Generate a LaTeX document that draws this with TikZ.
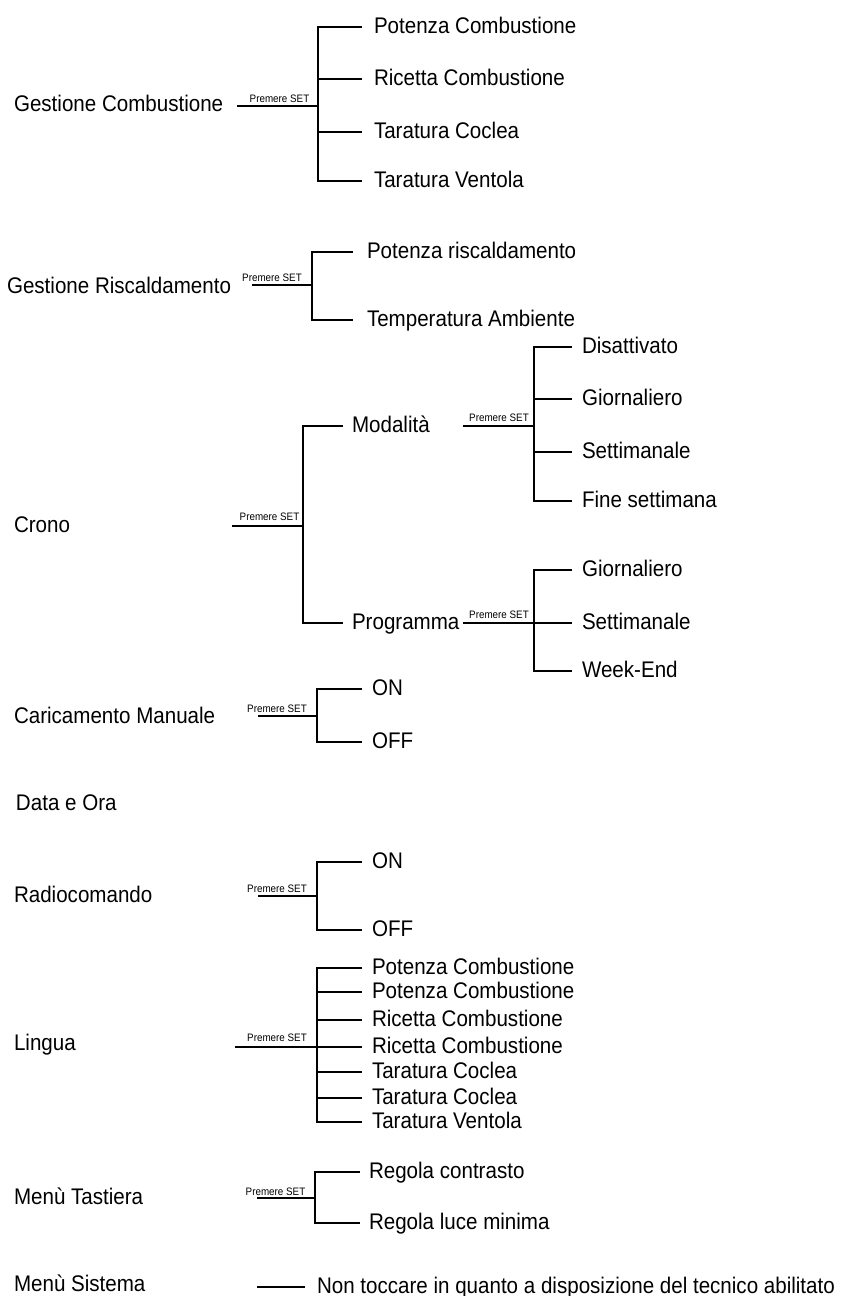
\documentclass[tikz,border=0pt]{standalone}
\usepackage{fontspec}
\setmainfont{Liberation Sans}[FakeStretch=0.91]
\usetikzlibrary{calc}
\begin{document}
\begin{tikzpicture}[x=1pt,y=-1pt,line width=1.5pt,
  lbl/.style={anchor=west, inner sep=0pt, outer sep=0pt, text height=15.8pt, text depth=3.6pt, font=\fontsize{22.6}{26}\selectfont},
  kid/.style={lbl, outer xsep=#1}, kid/.default=12pt,
  setlbl/.style={anchor=base, inner sep=0pt, font=\fontsize{10.8}{12}\selectfont}]
\useasboundingbox (0,0) rectangle (845,1296);
\fill[white] (0,0) rectangle (845,1296);

% ---- Gestione Combustione
\node[lbl] (gc) at (14,105) {Gestione Combustione};
\coordinate (gc-s) at (237,106);
\coordinate (gc-j) at (318,106);
\node[setlbl] (gc-set) at (279.5,102) {Premere SET};
\node[kid=12pt] (gc1) at (362,27) {Potenza Combustione};
\node[kid=12pt] (gc2) at (362,79) {Ricetta Combustione};
\node[kid=12pt] (gc3) at (362,132) {Taratura Coclea};
\node[kid=12pt] (gc4) at (362,181) {Taratura Ventola};
\draw (gc-s) -- (gc-j);
\draw (gc1.west) -- (gc-j |- gc1.west) -- (gc-j |- gc4.west) -- (gc4.west);
\draw (gc-j |- gc2.west) -- (gc2.west);
\draw (gc-j |- gc3.west) -- (gc3.west);

% ---- Gestione Riscaldamento
\node[lbl] (gr) at (7,287) {Gestione Riscaldamento};
\coordinate (gr-s) at (252,285);
\coordinate (gr-j) at (312,285);
\node[setlbl] (gr-set) at (272,281.5) {Premere SET};
\node[kid=14pt] (gr1) at (353,252) {Potenza riscaldamento};
\node[kid=14pt] (gr2) at (353,320) {Temperatura Ambiente};
\draw (gr-s) -- (gr-j);
\draw (gr1.west) -- (gr-j |- gr1.west) -- (gr-j |- gr2.west) -- (gr2.west);

% ---- Crono
\node[lbl] (cr) at (14,526) {Crono};
\coordinate (cr-s) at (232,526);
\coordinate (cr-j) at (303,526);
\node[setlbl] (cr-set) at (269.5,520.5) {Premere SET};
\node[kid=9pt] (mo) at (343,426) {Modalità};
\node[kid=9pt] (pr) at (343,623) {Programma};
\draw (cr-s) -- (cr-j);
\draw (mo.west) -- (cr-j |- mo.west) -- (cr-j |- pr.west) -- (pr.west);

\coordinate (mo-s) at (463,426);
\coordinate (mo-j) at (534,426);
\node[setlbl] (mo-set) at (499,421) {Premere SET};
\node[kid=10pt] (mo1) at (572,347) {Disattivato};
\node[kid=10pt] (mo2) at (572,399) {Giornaliero};
\node[kid=10pt] (mo3) at (572,452) {Settimanale};
\node[kid=10pt] (mo4) at (572,501) {Fine settimana};
\draw (mo-s) -- (mo-j);
\draw (mo1.west) -- (mo-j |- mo1.west) -- (mo-j |- mo4.west) -- (mo4.west);
\draw (mo-j |- mo2.west) -- (mo2.west);
\draw (mo-j |- mo3.west) -- (mo3.west);

\coordinate (pr-s) at (463,623);
\coordinate (pr-j) at (534,623);
\node[setlbl] (pr-set) at (499,618) {Premere SET};
\node[kid=10pt] (pr1) at (572,570) {Giornaliero};
\node[kid=10pt] (pr2) at (572,623) {Settimanale};
\node[kid=10pt] (pr3) at (572,671) {Week-End};
\draw (pr-s) -- (pr-j);
\draw (pr1.west) -- (pr-j |- pr1.west) -- (pr-j |- pr3.west) -- (pr3.west);
\draw (pr-j |- pr2.west) -- (pr2.west);

% ---- Caricamento Manuale
\node[lbl] (cm) at (14,717) {Caricamento Manuale};
\coordinate (cm-s) at (258,716);
\coordinate (cm-j) at (317,716);
\node[setlbl] (cm-set) at (277,712) {Premere SET};
\node[kid=10pt] (cm1) at (362,689) {ON};
\node[kid=10pt] (cm2) at (362,742) {OFF};
\draw (cm-s) -- (cm-j);
\draw (cm1.west) -- (cm-j |- cm1.west) -- (cm-j |- cm2.west) -- (cm2.west);

% ---- Data e Ora
\node[lbl] (dt) at (16,804) {Data e Ora};

% ---- Radiocomando
\node[lbl] (rc) at (14,896) {Radiocomando};
\coordinate (rc-s) at (258,896);
\coordinate (rc-j) at (317,896);
\node[setlbl] (rc-set) at (277,892) {Premere SET};
\node[kid=10pt] (rc1) at (362,862) {ON};
\node[kid=10pt] (rc2) at (362,930) {OFF};
\draw (rc-s) -- (rc-j);
\draw (rc1.west) -- (rc-j |- rc1.west) -- (rc-j |- rc2.west) -- (rc2.west);

% ---- Lingua
\node[lbl] (li) at (14,1044) {Lingua};
\coordinate (li-s) at (235,1047);
\coordinate (li-j) at (317,1047);
\node[setlbl] (li-set) at (277,1041) {Premere SET};
\node[kid=10pt] (li1) at (362,968) {Potenza Combustione};
\node[kid=10pt] (li2) at (362,992) {Potenza Combustione};
\node[kid=10pt] (li3) at (362,1020) {Ricetta Combustione};
\node[kid=10pt] (li4) at (362,1047) {Ricetta Combustione};
\node[kid=10pt] (li5) at (362,1072) {Taratura Coclea};
\node[kid=10pt] (li6) at (362,1098) {Taratura Coclea};
\node[kid=10pt] (li7) at (362,1122) {Taratura Ventola};
\draw (li-s) -- (li-j);
\draw (li1.west) -- (li-j |- li1.west) -- (li-j |- li7.west) -- (li7.west);
\foreach \k in {2,...,6} \draw (li-j |- li\k.west) -- (li\k.west);

% ---- Menu Tastiera
\node[lbl] (mt) at (14,1198) {Menù Tastiera};
\coordinate (mt-s) at (257,1198);
\coordinate (mt-j) at (315,1198);
\node[setlbl] (mt-set) at (275.5,1195.5) {Premere SET};
\node[kid=9pt] (mt1) at (360,1172) {Regola contrasto};
\node[kid=9pt] (mt2) at (360,1223) {Regola luce minima};
\draw (mt-s) -- (mt-j);
\draw (mt1.west) -- (mt-j |- mt1.west) -- (mt-j |- mt2.west) -- (mt2.west);

% ---- Menu Sistema
\node[lbl] (ms) at (14,1285) {Menù Sistema};
\coordinate (ms-s) at (257,1287);
\node[kid=12pt] (ms1) at (305,1287) {Non toccare in quanto a disposizione del tecnico abilitato};
\draw (ms-s) -- (ms1.west);
\end{tikzpicture}
\end{document}
